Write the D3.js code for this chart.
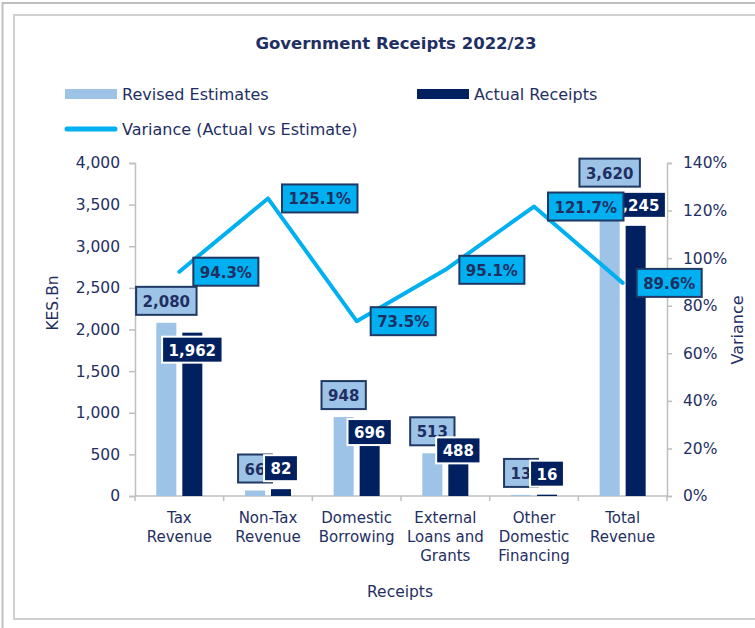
<!DOCTYPE html>
<html>
<head>
<meta charset="utf-8">
<script src="https://cdn.jsdelivr.net/npm/d3@7"></script>
<style>
  body { margin: 0; background: #fff; }
  text { font-family: "DejaVu Sans", sans-serif; }
</style>
</head>
<body>
<svg id="chart" width="755" height="628"></svg>
<script>
// Data
var categories = ["Tax Revenue", "Non-Tax Revenue", "Domestic Borrowing", "External Loans and Grants", "Other Domestic Financing", "Total Revenue"];
var categoryLines = [["Tax", "Revenue"], ["Non-Tax", "Revenue"], ["Domestic", "Borrowing"], ["External", "Loans and", "Grants"], ["Other", "Domestic", "Financing"], ["Total", "Revenue"]];
var revisedEstimates = [2080, 66, 948, 513, 13, 3620];
var actualReceipts = [1962, 82, 696, 488, 16, 3245];
var variance = [94.3, 125.1, 73.5, 95.1, 121.7, 89.6];
var leftTicks = [0, 500, 1000, 1500, 2000, 2500, 3000, 3500, 4000];
var rightTicks = [0, 20, 40, 60, 80, 100, 120, 140];

// colours
var lightBlue = "#9DC3E6", navy = "#002060", cyan = "#00B0F0", textNavy = "#1F2F63", axisGrey = "#BFBFBF";

// where the "Actual" labels sit relative to the bar top (Excel labels were moved by hand)
var actualLabelShift = {"Tax Revenue": 17, "Non-Tax Revenue": -21, "Domestic Borrowing": -6,
  "External Loans and Grants": -5, "Other Domestic Financing": -21, "Total Revenue": -21};

var svg = d3.select("#chart");

// outer and inner frames
svg.append("rect").attr("x", 2.5).attr("y", 3).attr("width", 780).attr("height", 640)
  .attr("fill", "none").attr("stroke", "#BFBFBF").attr("stroke-width", 2);
svg.append("rect").attr("x", 14).attr("y", 15).attr("width", 780).attr("height", 604)
  .attr("fill", "none").attr("stroke", "#D0D0D0").attr("stroke-width", 2);

var plot = {left: 135, right: 667, top: 163, bottom: 496};

var x = d3.scaleBand().domain(categories).range([plot.left, plot.right]).paddingInner(0).paddingOuter(0);
var inner = d3.scaleBand().domain(["est", "act"])
  .range([x.bandwidth() / 2 - 23, x.bandwidth() / 2 + 23]).paddingInner(0.23);
var y = d3.scaleLinear().domain([0, 4000]).range([plot.bottom, plot.top]);
var y2 = d3.scaleLinear().domain([0, 140]).range([plot.bottom, plot.top]);

var data = categories.map(function(c, i) {
  return {cat: c, est: revisedEstimates[i], act: actualReceipts[i], v: variance[i], lines: categoryLines[i]};
});

// Title
svg.append("text").attr("x", 396).attr("y", 49).attr("text-anchor", "middle")
  .attr("font-size", 16.5).attr("font-weight", "bold").attr("fill", textNavy)
  .text("Government Receipts 2022/23");

// Legend
var legend = svg.append("g");
legend.append("rect").attr("x", 65).attr("y", 89).attr("width", 52).attr("height", 10).attr("fill", lightBlue);
legend.append("text").attr("x", 122).attr("y", 100).attr("font-size", 16).attr("fill", textNavy).text("Revised Estimates");
legend.append("rect").attr("x", 417).attr("y", 89).attr("width", 52).attr("height", 10).attr("fill", navy);
legend.append("text").attr("x", 474).attr("y", 100).attr("font-size", 16).attr("fill", textNavy).text("Actual Receipts");
legend.append("line").attr("x1", 67).attr("x2", 115).attr("y1", 129).attr("y2", 129)
  .attr("stroke", cyan).attr("stroke-width", 5).attr("stroke-linecap", "round");
legend.append("text").attr("x", 122).attr("y", 135).attr("font-size", 16).attr("fill", textNavy).text("Variance (Actual vs Estimate)");

// Left axis
var leftAxis = svg.append("g")
  .attr("transform", "translate(" + plot.left + ",0)")
  .call(d3.axisLeft(y).tickValues(leftTicks).tickSize(6).tickPadding(9).tickFormat(d3.format(",")));

// Right axis
var rightAxis = svg.append("g")
  .attr("transform", "translate(" + plot.right + ",0)")
  .call(d3.axisRight(y2).tickValues(rightTicks).tickSize(5).tickPadding(11).tickFormat(function(d) { return d + "%"; }));

// Bottom axis: ticks at the category boundaries
var bottomAxis = svg.append("g").attr("transform", "translate(0," + plot.bottom + ")");
bottomAxis.append("line").attr("x1", plot.left).attr("x2", plot.right).attr("stroke", axisGrey).attr("stroke-width", 1.5);
bottomAxis.selectAll(".btick")
  .data(categories.concat(["end"]))
  .enter().append("line")
  .attr("x1", function(d) { return d === "end" ? plot.right : x(d); })
  .attr("x2", function(d) { return d === "end" ? plot.right : x(d); })
  .attr("y1", 0).attr("y2", 5)
  .attr("stroke", axisGrey).attr("stroke-width", 1.5);

[leftAxis, rightAxis].forEach(function(a) {
  a.select(".domain").attr("stroke", axisGrey).attr("stroke-width", 1.5);
  a.selectAll(".tick line").attr("stroke", axisGrey).attr("stroke-width", 1.5);
  a.selectAll(".tick text").attr("fill", textNavy).attr("font-size", 15.5)
    .attr("font-family", "DejaVu Sans, sans-serif");
});

// category labels, broken into lines
var catLabels = svg.append("g").selectAll(".cat")
  .data(data)
  .enter().append("text")
  .attr("class", "cat")
  .attr("text-anchor", "middle")
  .attr("font-size", 15)
  .attr("fill", textNavy)
  .attr("x", function(d) { return x(d.cat) + x.bandwidth() / 2; })
  .attr("y", 523);
catLabels.selectAll("tspan")
  .data(function(d) { return d.lines.map(function(l) { return {t: l, cx: x(d.cat) + x.bandwidth() / 2}; }); })
  .enter().append("tspan")
  .attr("x", function(d) { return d.cx; })
  .attr("dy", function(d, i) { return i === 0 ? 0 : 19; })
  .text(function(d) { return d.t; });

// axis titles
svg.append("text").attr("x", 400).attr("y", 597).attr("text-anchor", "middle")
  .attr("font-size", 15.5).attr("fill", textNavy).text("Receipts");
svg.append("text").attr("transform", "translate(58,303) rotate(-90)").attr("text-anchor", "middle")
  .attr("font-size", 15.5).attr("fill", textNavy).text("KES.Bn");
svg.append("text").attr("transform", "translate(743,330) rotate(-90)").attr("text-anchor", "middle")
  .attr("font-size", 16).attr("fill", textNavy).text("Variance");

// Bars
var bars = svg.append("g");
bars.selectAll(".est")
  .data(data)
  .enter().append("rect")
  .attr("class", "est")
  .attr("x", function(d) { return x(d.cat) + inner("est"); })
  .attr("y", function(d) { return y(d.est); })
  .attr("width", inner.bandwidth())
  .attr("height", function(d) { return plot.bottom - y(d.est); })
  .attr("fill", lightBlue);
bars.selectAll(".act")
  .data(data)
  .enter().append("rect")
  .attr("class", "act")
  .attr("x", function(d) { return x(d.cat) + inner("act"); })
  .attr("y", function(d) { return y(d.act); })
  .attr("width", inner.bandwidth())
  .attr("height", function(d) { return plot.bottom - y(d.act); })
  .attr("fill", navy);

// Variance line
var line = d3.line()
  .x(function(d) { return x(d.cat) + x.bandwidth() / 2; })
  .y(function(d) { return y2(d.v); });
svg.append("path").datum(data)
  .attr("d", line)
  .attr("fill", "none")
  .attr("stroke", cyan)
  .attr("stroke-width", 4)
  .attr("stroke-linejoin", "round")
  .attr("stroke-linecap", "round");

// helper: boxed data label. anchor "middle" centres on cx, "start" puts the box's left edge at cx
function boxLabel(g, cx, cy, txt, fill, stroke, color, anchor, h) {
  var lg = g.append("g");
  var t = lg.append("text")
    .attr("font-size", 15).attr("font-weight", "bold").attr("fill", color)
    .attr("text-anchor", "middle").attr("dominant-baseline", "central")
    .text(txt);
  var w = t.node().getComputedTextLength() + 13;
  var left = anchor === "start" ? cx : cx - w / 2;
  t.attr("x", left + w / 2).attr("y", cy + 1);
  lg.insert("rect", "text")
    .attr("x", left).attr("y", cy - h / 2).attr("width", w).attr("height", h)
    .attr("fill", fill).attr("stroke", stroke).attr("stroke-width", 2);
}

var labels = svg.append("g");
data.forEach(function(d) {
  boxLabel(labels, x(d.cat) + inner("est") + inner.bandwidth() / 2, y(d.est) - 22,
    d3.format(",")(d.est), lightBlue, "#1F3864", textNavy, "middle", 28);
});
data.forEach(function(d) {
  boxLabel(labels, x(d.cat) + inner("act") + inner.bandwidth() / 2, y(d.act) + actualLabelShift[d.cat],
    d3.format(",")(d.act), navy, "#FFFFFF", "#FFFFFF", "middle", 26);
});
data.forEach(function(d) {
  boxLabel(labels, x(d.cat) + x.bandwidth() / 2 + 14, y2(d.v),
    d.v.toFixed(1) + "%", cyan, "#1F3864", textNavy, "start", 28);
});
</script>
</body>
</html>
